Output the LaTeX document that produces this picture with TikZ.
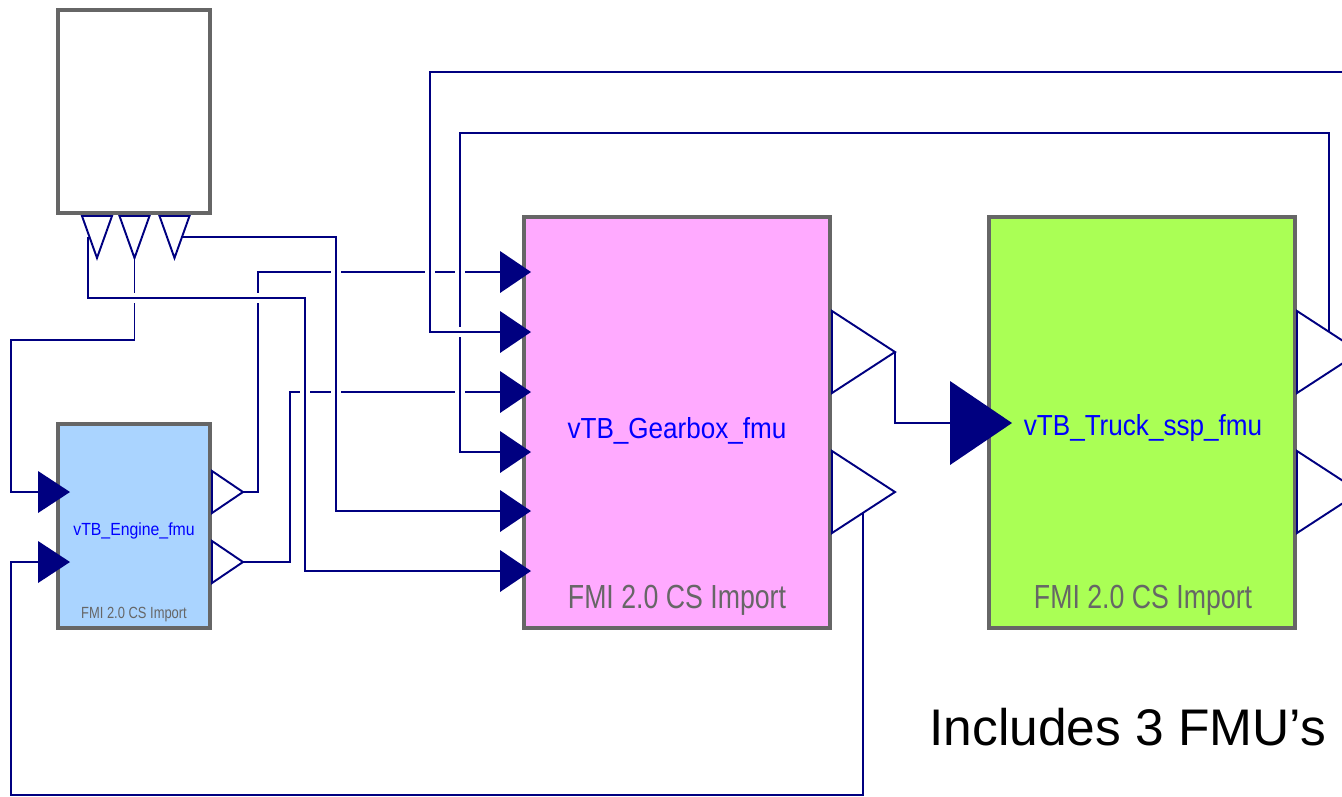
\documentclass[tikz,border=0pt]{standalone}
\usepackage{fontspec}
\setmainfont{Liberation Sans}
\newfontfamily\labelfont{Liberation Sans}[FakeStretch=0.9]
\newfontfamily\fmifont{Liberation Sans}[FakeStretch=0.8]
\definecolor{portblue}{RGB}{0,0,128}
\definecolor{boxgray}{RGB}{102,102,102}
\definecolor{enginefill}{RGB}{170,212,255}
\definecolor{gearfill}{RGB}{255,170,255}
\definecolor{truckfill}{RGB}{170,255,85}

\begin{document}
\begin{tikzpicture}[x=0.02cm,y=-0.02cm,
    fmu/.style={draw=boxgray,line width=2.3pt,minimum width=6.12cm,minimum height=8.22cm,inner sep=0pt},
    smallfmu/.style={fmu,minimum width=3.04cm,minimum height=4.08cm},
    fmuname/.style={text=blue,font=\labelfont\fontsize{16.5pt}{19pt}\selectfont,anchor=base,inner sep=0pt},
    smallname/.style={fmuname,font=\labelfont\fontsize{10pt}{12pt}\selectfont},
    fmitext/.style={text=boxgray,font=\fmifont\fontsize{19pt}{22pt}\selectfont,anchor=base,inner sep=0pt},
    smallfmi/.style={fmitext,font=\fmifont\fontsize{9.2pt}{11pt}\selectfont},
    wire/.style={portblue,line width=1.1pt},
    over/.style={wire,preaction={draw=white,line width=5.5pt}},
    inport/.style={fill=portblue},
    outport/.style={draw=portblue,line width=1.1pt}]
    \useasboundingbox (0,0) rectangle (1342,796);
    \clip (0,0) rectangle (1342,796);

    % blocks
    \node[smallfmu,minimum height=4.06cm,fill=white] (topbox) at (134,111.5) {};
    \node[smallfmu,fill=enginefill] (engine) at (134,526) {};
    \node[fmu,fill=gearfill] (gearbox) at (677,422.5) {};
    \node[fmu,fill=truckfill] (truck) at (1142,422.5) {};

    \node[smallname] (enginename) at (134,535) {vTB\_Engine\_fmu};
    \node[smallfmi] (enginefmi) at (134,618) {FMI 2.0 CS Import};
    \node[fmuname] (gearboxname) at (677,438) {vTB\_Gearbox\_fmu};
    \node[fmitext] (gearboxfmi) at (677,608) {FMI 2.0 CS Import};
    \node[fmuname] (truckname) at (1143,435) {vTB\_Truck\_ssp\_fmu};
    \node[fmitext] (truckfmi) at (1143,608) {FMI 2.0 CS Import};

    \node[anchor=base west,inner sep=0pt,font=\fontsize{29.3pt}{33pt}\selectfont] (note) at (929,745) {Includes 3 FMU’s};

    % ports
    \foreach \i/\y in {1/272,2/332,3/392,4/452,5/511,6/571}
        \coordinate (gb-in\i) at (500,\y);
    \coordinate (gb-out1) at (895,352);
    \coordinate (gb-out2) at (895,492);
    \coordinate (gb-out2w) at (863,513);
    \coordinate (en-in1) at (38,492);
    \coordinate (en-in2) at (38,562);
    \coordinate (en-out1) at (243,492);
    \coordinate (en-out2) at (243,562);
    \coordinate (tb-out1) at (97,258);
    \coordinate (tb-out2) at (134.5,258);
    \coordinate (tb-out3) at (174.5,258);
    \coordinate (tb-out1w) at (88,237);
    \coordinate (tb-out3w) at (182,237);
    \coordinate (tr-in) at (950,423);
    \coordinate (tr-out1) at (1360,352);
    \coordinate (tr-out2) at (1360,492);
    \coordinate (tr-out1w) at (1329,332);
    \coordinate (ext) at (1342,72);

    % connections
    \draw[wire] (en-out1) -- ++(15,0) |- (gb-in1);
    \draw[wire] (en-out2) -- ++(47,0) |- (gb-in3);
    \draw[wire] (tb-out2) -- ++(0,82) -- ++(-123.5,0) |- (en-in1);
    \draw[wire] (gb-out1) |- (tr-in);
    \draw[wire] (gb-out2w) -- ++(0,282) -- ++(-852,0) |- (en-in2);
    \draw[over] (tr-out1w) -- ++(0,-199) -- ++(-869,0) |- (gb-in4);
    \draw[over] (ext) -- ++(-912,0) |- (gb-in2);
    \draw[over] (tb-out3w) -- ++(154,0) |- (gb-in5);
    \draw[over] (tb-out1w) |- ++(217,61) |- (gb-in6);

    % port triangles
    \foreach \i in {1,...,6}
        \fill[inport] (gb-in\i) -- ++(0,-21) -- ++(31,21) -- ++(-31,21) -- cycle;
    \foreach \i in {1,2}
        \fill[inport] (en-in\i) -- ++(0,-21) -- ++(32,21) -- ++(-32,21) -- cycle;
    \fill[inport] (tr-in) -- ++(0,-42) -- ++(62,42) -- ++(-62,42) -- cycle;
    \foreach \i in {1,2} {
        \draw[outport] (en-out\i) -- ++(-31,-21) -- ++(0,42) -- cycle;
        \draw[outport] (gb-out\i) -- ++(-63,-41) -- ++(0,82) -- cycle;
        \draw[outport] (tr-out\i) -- ++(-63,-41) -- ++(0,82) -- cycle;
    }
    \foreach \i in {1,2,3}
        \draw[outport] (tb-out\i) -- ++(-15,-42) -- ++(30,0) -- cycle;
\end{tikzpicture}
\end{document}
